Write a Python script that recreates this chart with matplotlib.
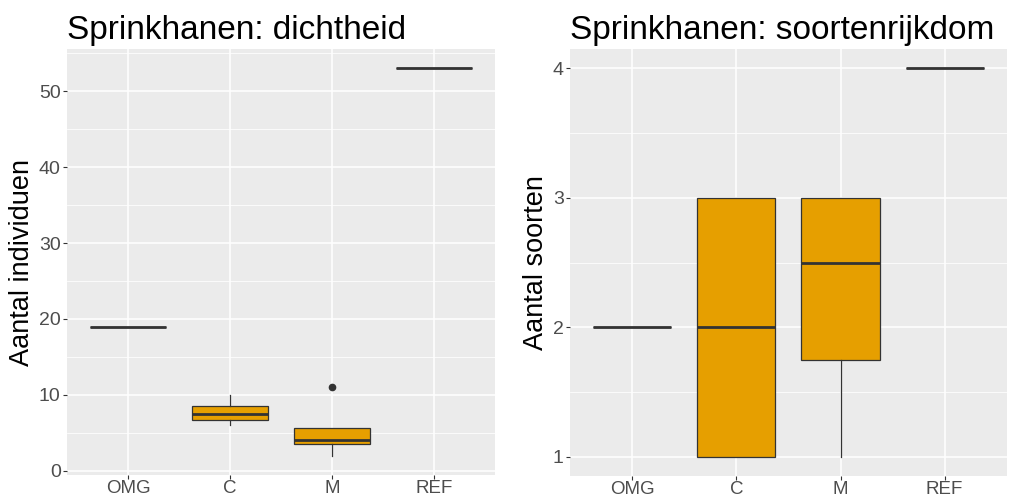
import matplotlib
matplotlib.use("Agg")
import matplotlib.pyplot as plt
from matplotlib.ticker import MultipleLocator

plt.rcParams['font.family'] = ['Liberation Sans', 'DejaVu Sans']

categories = ["OMG", "C", "M", "REF"]

# Left panel: density (Aantal individuen)
dens_whislo = [19, 6.0, 2.0, 53]
dens_q1     = [19, 6.7, 3.5, 53]
dens_med    = [19, 7.5, 4.0, 53]
dens_q3     = [19, 8.55, 5.65, 53]
dens_whishi = [19, 10.0, 5.65, 53]
dens_fliers = [[], [], [11.0], []]

# Right panel: species richness (Aantal soorten)
rich_whislo = [2, 1.0, 1.0, 4]
rich_q1     = [2, 1.0, 1.75, 4]
rich_med    = [2, 2.0, 2.5, 4]
rich_q3     = [2, 3.0, 3.0, 4]
rich_whishi = [2, 3.0, 3.0, 4]
rich_fliers = [[], [], [], []]

FILL = "#E69F00"
EDGE = "#333333"
BG = "#EBEBEB"


def build_stats(lo, q1, med, q3, hi, fl):
    return [dict(whislo=a, q1=b, med=c, q3=d, whishi=e, fliers=f, label=lab)
            for a, b, c, d, e, f, lab in zip(lo, q1, med, q3, hi, fl, categories)]


def style_axes(ax, ylim, major, minor, title, ylabel):
    ax.set_facecolor(BG)
    for s in ax.spines.values():
        s.set_visible(False)
    ax.set_ylim(*ylim)
    ax.set_xlim(0.4, 4.6)
    ax.yaxis.set_major_locator(MultipleLocator(major))
    ax.yaxis.set_minor_locator(MultipleLocator(minor))
    ax.grid(True, which='major', color='white', linewidth=1.1, zorder=0)
    ax.grid(True, which='minor', axis='y', color='white', linewidth=0.55, zorder=0)
    ax.set_axisbelow(True)
    ax.tick_params(axis='both', which='major', length=3, width=0.8, color=EDGE,
                   labelcolor='#4D4D4D', labelsize=14, pad=1.5)
    ax.tick_params(axis='x', which='major', labelsize=13.5, pad=0.5)
    ax.tick_params(axis='y', which='minor', length=0)
    ax.set_title(title, loc='left', fontsize=24, pad=7, color='black')
    ax.set_ylabel(ylabel, fontsize=19.5, labelpad=3)


fig = plt.figure(figsize=(10.09, 5.0), dpi=100)
ax1 = fig.add_axes([0.0664, 0.05, 0.4242, 0.852])
ax2 = fig.add_axes([0.5649, 0.048, 0.4331, 0.854])

box_kw = dict(
    positions=[1, 2, 3, 4], widths=0.75, patch_artist=True, showcaps=False,
    boxprops=dict(facecolor=FILL, edgecolor=EDGE, linewidth=0.9),
    whiskerprops=dict(color=EDGE, linewidth=0.9),
    medianprops=dict(color=EDGE, linewidth=2.0, solid_capstyle='butt'),
    flierprops=dict(marker='o', markerfacecolor=EDGE, markeredgecolor=EDGE,
                    markersize=4.5),
    zorder=3,
)

ax1.bxp(build_stats(dens_whislo, dens_q1, dens_med, dens_q3, dens_whishi, dens_fliers), **box_kw)
style_axes(ax1, (-0.55, 55.55), 10, 5, "Sprinkhanen: dichtheid", "Aantal individuen")
ax1.set_xticks([1, 2, 3, 4])
ax1.set_xticklabels(categories)

ax2.bxp(build_stats(rich_whislo, rich_q1, rich_med, rich_q3, rich_whishi, rich_fliers), **box_kw)
style_axes(ax2, (0.85, 4.15), 1, 0.5, "Sprinkhanen: soortenrijkdom", "Aantal soorten")
ax2.set_xticks([1, 2, 3, 4])
ax2.set_xticklabels(categories)

fig.savefig("out.png", dpi=100, facecolor='white')
